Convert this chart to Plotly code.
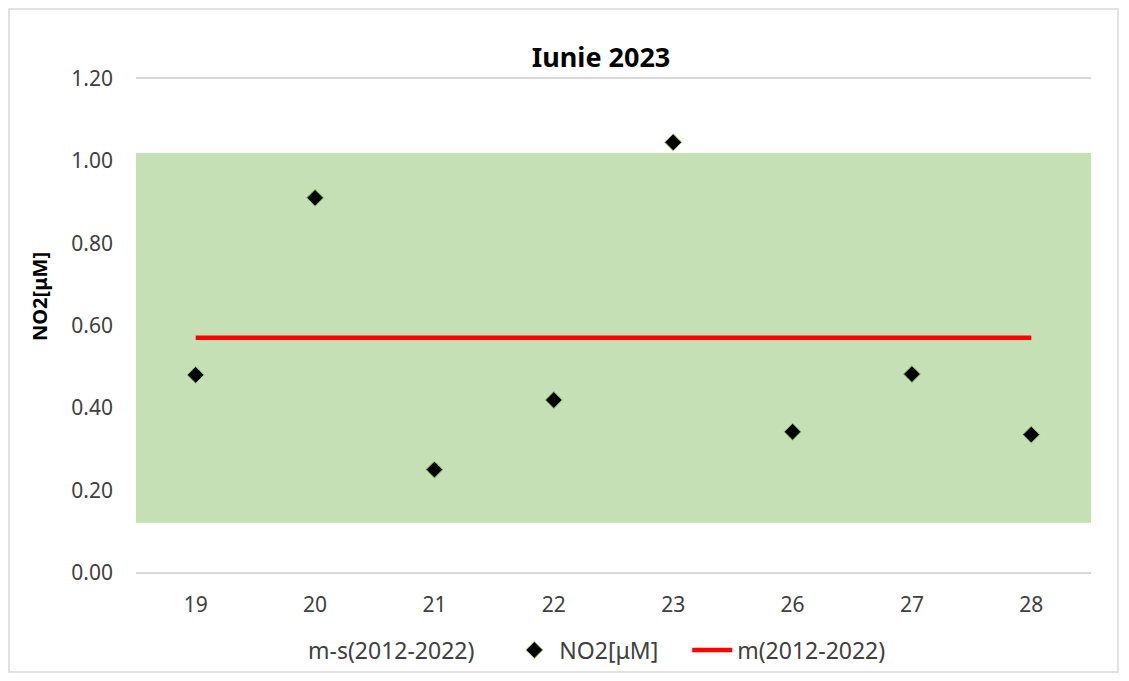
import plotly.graph_objects as go

# Data
days = ["19", "20", "21", "22", "23", "26", "27", "28"]
no2_values = [0.480, 0.910, 0.250, 0.419, 1.045, 0.342, 0.482, 0.335]
mean_value = 0.570          # m(2012-2022)
lower_value = 0.121         # m-s(2012-2022)
upper_value = 1.019         # m+s(2012-2022)

FONT = "Noto Sans"
TEXT_COLOR = "#404040"
NBSP = "\u00a0"

# page is drawn with an 8px body margin, so layout is in figure pixels
W, H = 1129, 681
L, R, T, B = 128, 46, 68, 114
PW, PH = W - L - R, H - T - B
PAD = 0.006  # keeps the 0.00 and 1.20 gridlines from being clipped

pos = list(range(len(days)))
band_x = [-0.5, len(days) - 0.5]

fig = go.Figure()

# lower area (white, listed in legend)
fig.add_trace(go.Scatter(
    x=band_x, y=[lower_value] * 2, mode="lines", fill="tozeroy",
    fillcolor="rgba(255,255,255,0)", line=dict(width=0),
    name="m-s(2012-2022)" + NBSP * 5, hoverinfo="skip",
))
# green band between m-s and m+s
fig.add_trace(go.Scatter(
    x=band_x, y=[upper_value] * 2, mode="lines", fill="tonexty",
    fillcolor="#c5e0b4", line=dict(width=0),
    showlegend=False, hoverinfo="skip",
))
fig.add_trace(go.Scatter(
    x=pos, y=no2_values, mode="markers", name="NO2[μM]" + NBSP * 4,
    marker=dict(symbol="diamond", size=13, color="black",
                line=dict(color="#92d050", width=1)),
))
fig.add_trace(go.Scatter(
    x=pos, y=[mean_value] * len(days), mode="lines", name="m(2012-2022)",
    line=dict(color="#ff0000", width=4.5),
))

fig.update_layout(
    width=W, height=H,
    margin=dict(l=L, r=R, t=T, b=B),
    paper_bgcolor="white", plot_bgcolor="white",
    font=dict(family=FONT, size=21, color=TEXT_COLOR),
    title=dict(text="<b>Iunie 2023</b>", x=(593 - L) / PW, xref="paper",
               xanchor="center", y=1 - 50 / H, yanchor="middle",
               font=dict(size=27, color="black")),
    legend=dict(orientation="h", x=(250 - L) / PW, xanchor="left",
                y=-(642 - (H - B)) / PH, yanchor="middle",
                font=dict(size=23, color=TEXT_COLOR), itemwidth=40,
                bgcolor="rgba(0,0,0,0)", traceorder="normal"),
    showlegend=True,
)
fig.update_xaxes(
    tickmode="array", tickvals=pos, ticktext=days,
    range=band_x, showgrid=False, zeroline=False, showline=False,
    ticks="", ticklen=0, ticklabelstandoff=15,
)
fig.update_yaxes(
    range=[-PAD, 1.2 + PAD], tickvals=[0, 0.2, 0.4, 0.6, 0.8, 1.0, 1.2],
    tickformat=".2f", showgrid=True, gridcolor="#d9d9d9", gridwidth=1.5,
    zeroline=False, showline=False, ticklabelstandoff=22,
)

# y-axis title, sitting a bit above the plot centre as in the original
fig.add_annotation(text="<b>NO2[μM]</b>", textangle=-90, showarrow=False,
                   xref="paper", yref="paper",
                   x=(31 - L) / PW, y=(H - B - 289) / PH,
                   xanchor="center", yanchor="middle",
                   font=dict(size=20, color="black"))

# light border around the whole chart area
fig.add_shape(type="rect", xref="paper", yref="paper",
              x0=(1 - L) / PW, x1=(1110 - L) / PW,
              y0=-(664 - (H - B)) / PH, y1=(H - B - 1) / PH,
              line=dict(color="#d9d9d9", width=1.5), layer="below")

fig.write_html("out.html")
